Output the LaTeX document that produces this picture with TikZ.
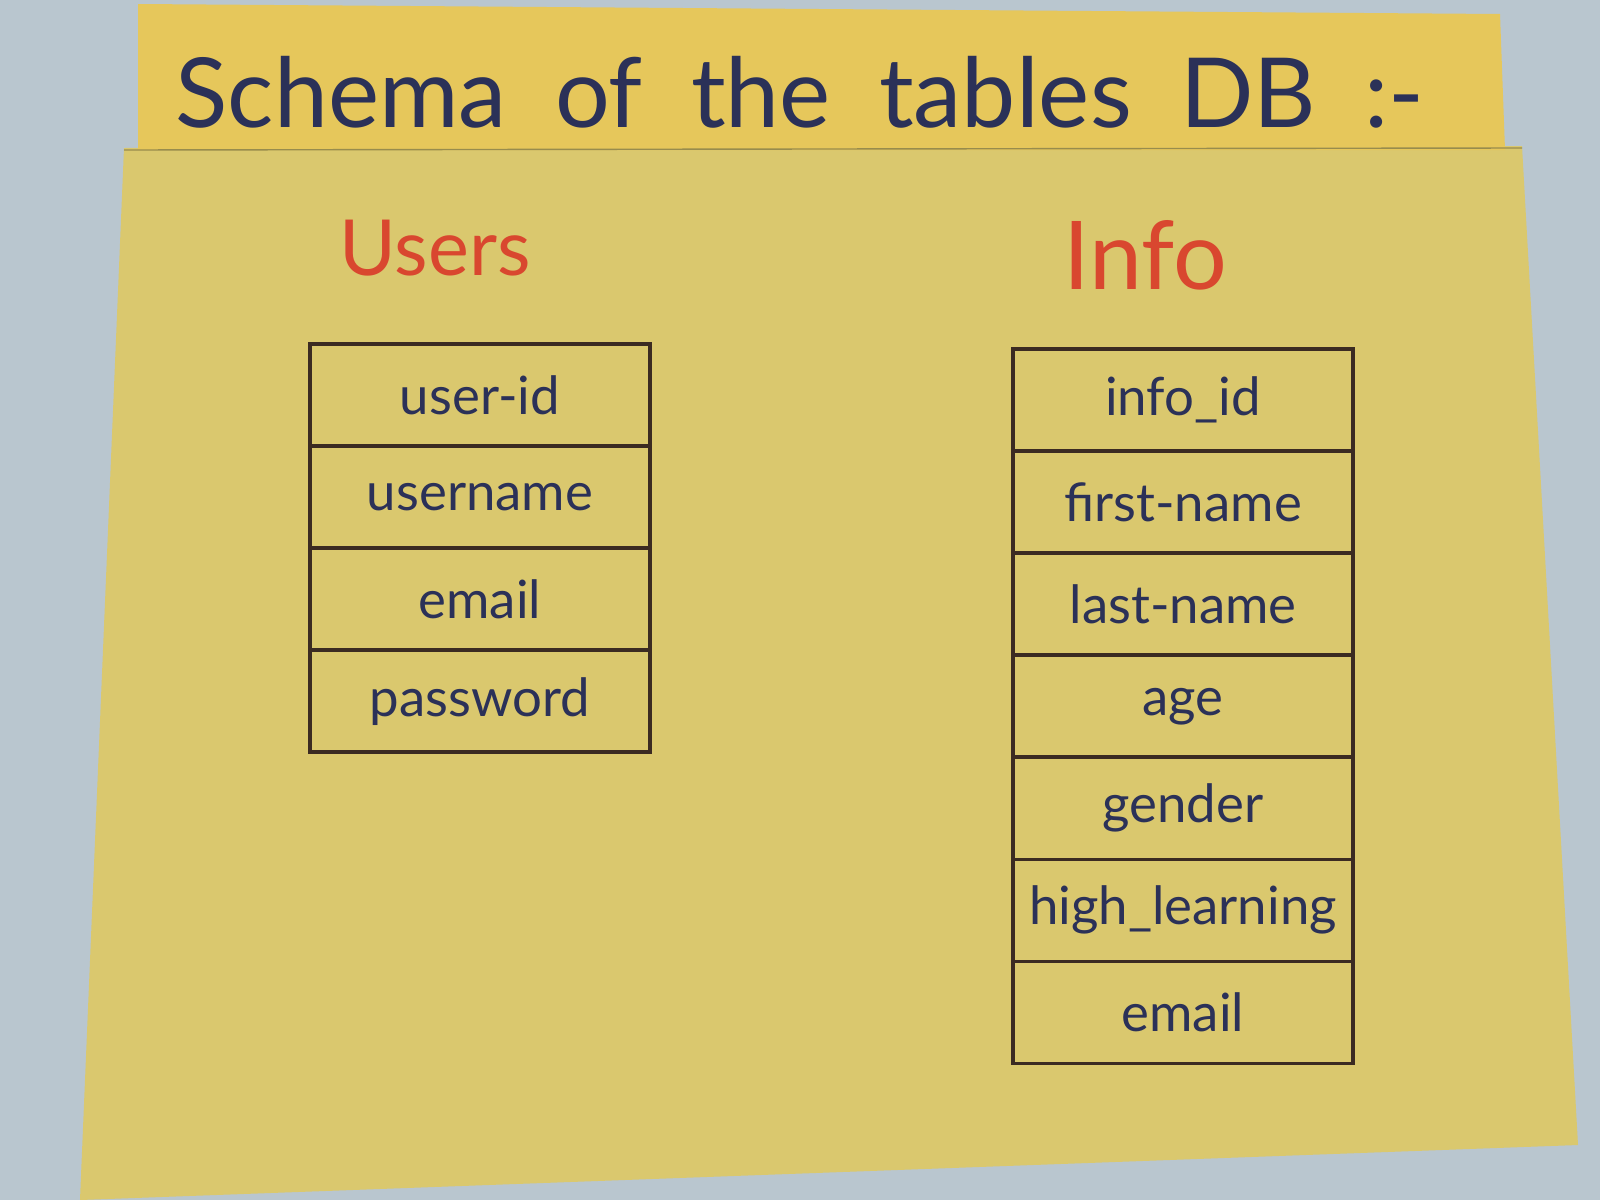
\documentclass[tikz,border=0pt]{standalone}
\usepackage{fontspec}
\setmainfont{Lato}
\usetikzlibrary{positioning}
\definecolor{wall}{HTML}{B9C6CF}
\definecolor{paper}{HTML}{DAC86E}
\definecolor{paperTop}{HTML}{E6C75B}
\definecolor{ink}{HTML}{2B3158}
\definecolor{redink}{HTML}{D9472F}
\definecolor{pen}{HTML}{3B2B22}
\begin{document}
\begin{tikzpicture}[x=0.01cm,y=-0.01cm,
    cell/.style={draw=pen,line width=1pt,minimum width=\cellw,minimum height=\cellh,
        outer sep=0pt,inner sep=0pt,text=ink,font=\fontsize{15}{18}\selectfont},
    tablename/.style={text=redink,font=\fontsize{22}{26}\selectfont}]
    \def\cellw{3.4cm}
    \def\cellh{1.02cm}
    \coordinate (UsersTop) at (480,344);
    \coordinate (InfoTop) at (1183,349);
    \fill[wall] (0,0) rectangle (1600,1200);
    \useasboundingbox (0,0) rectangle (1600,1200);
    \fill[paper] (124,148) -- (1522,146) -- (1578,1145) -- (80,1200) -- cycle;
    \fill[paperTop] (138,4) -- (1500,14) -- (1505,150) -- (138,150) -- cycle;
    \draw[paper!70!black,thin] (124,150) -- (1522,148);
    \node[text=ink,font=\fontsize{27.5}{32}\selectfont] (title) at (800,92) {Schema\enspace of\enspace the\enspace tables\enspace DB\enspace :-};
    \node[tablename] (users) at (435,248) {Users};
    \node[tablename,font=\fontsize{27}{32}\selectfont] (info) at (1145,255) {Info};
    \node[cell,anchor=north] (userid) at (UsersTop) {user-id};
    \node[cell,below=0pt of userid] (username) {username};
    \node[cell,below=0pt of username] (useremail) {email};
    \node[cell,below=0pt of useremail] (password) {password};
    \node[cell,anchor=north] (infoid) at (InfoTop) {info\_id};
    \node[cell,below=0pt of infoid] (firstname) {first-name};
    \node[cell,below=0pt of firstname] (lastname) {last-name};
    \node[cell,below=0pt of lastname] (age) {age};
    \node[cell,below=0pt of age] (gender) {gender};
    \node[cell,below=0pt of gender] (highlearning) {high\_learning};
    \node[cell,below=0pt of highlearning] (infoemail) {email};
\end{tikzpicture}
\end{document}
